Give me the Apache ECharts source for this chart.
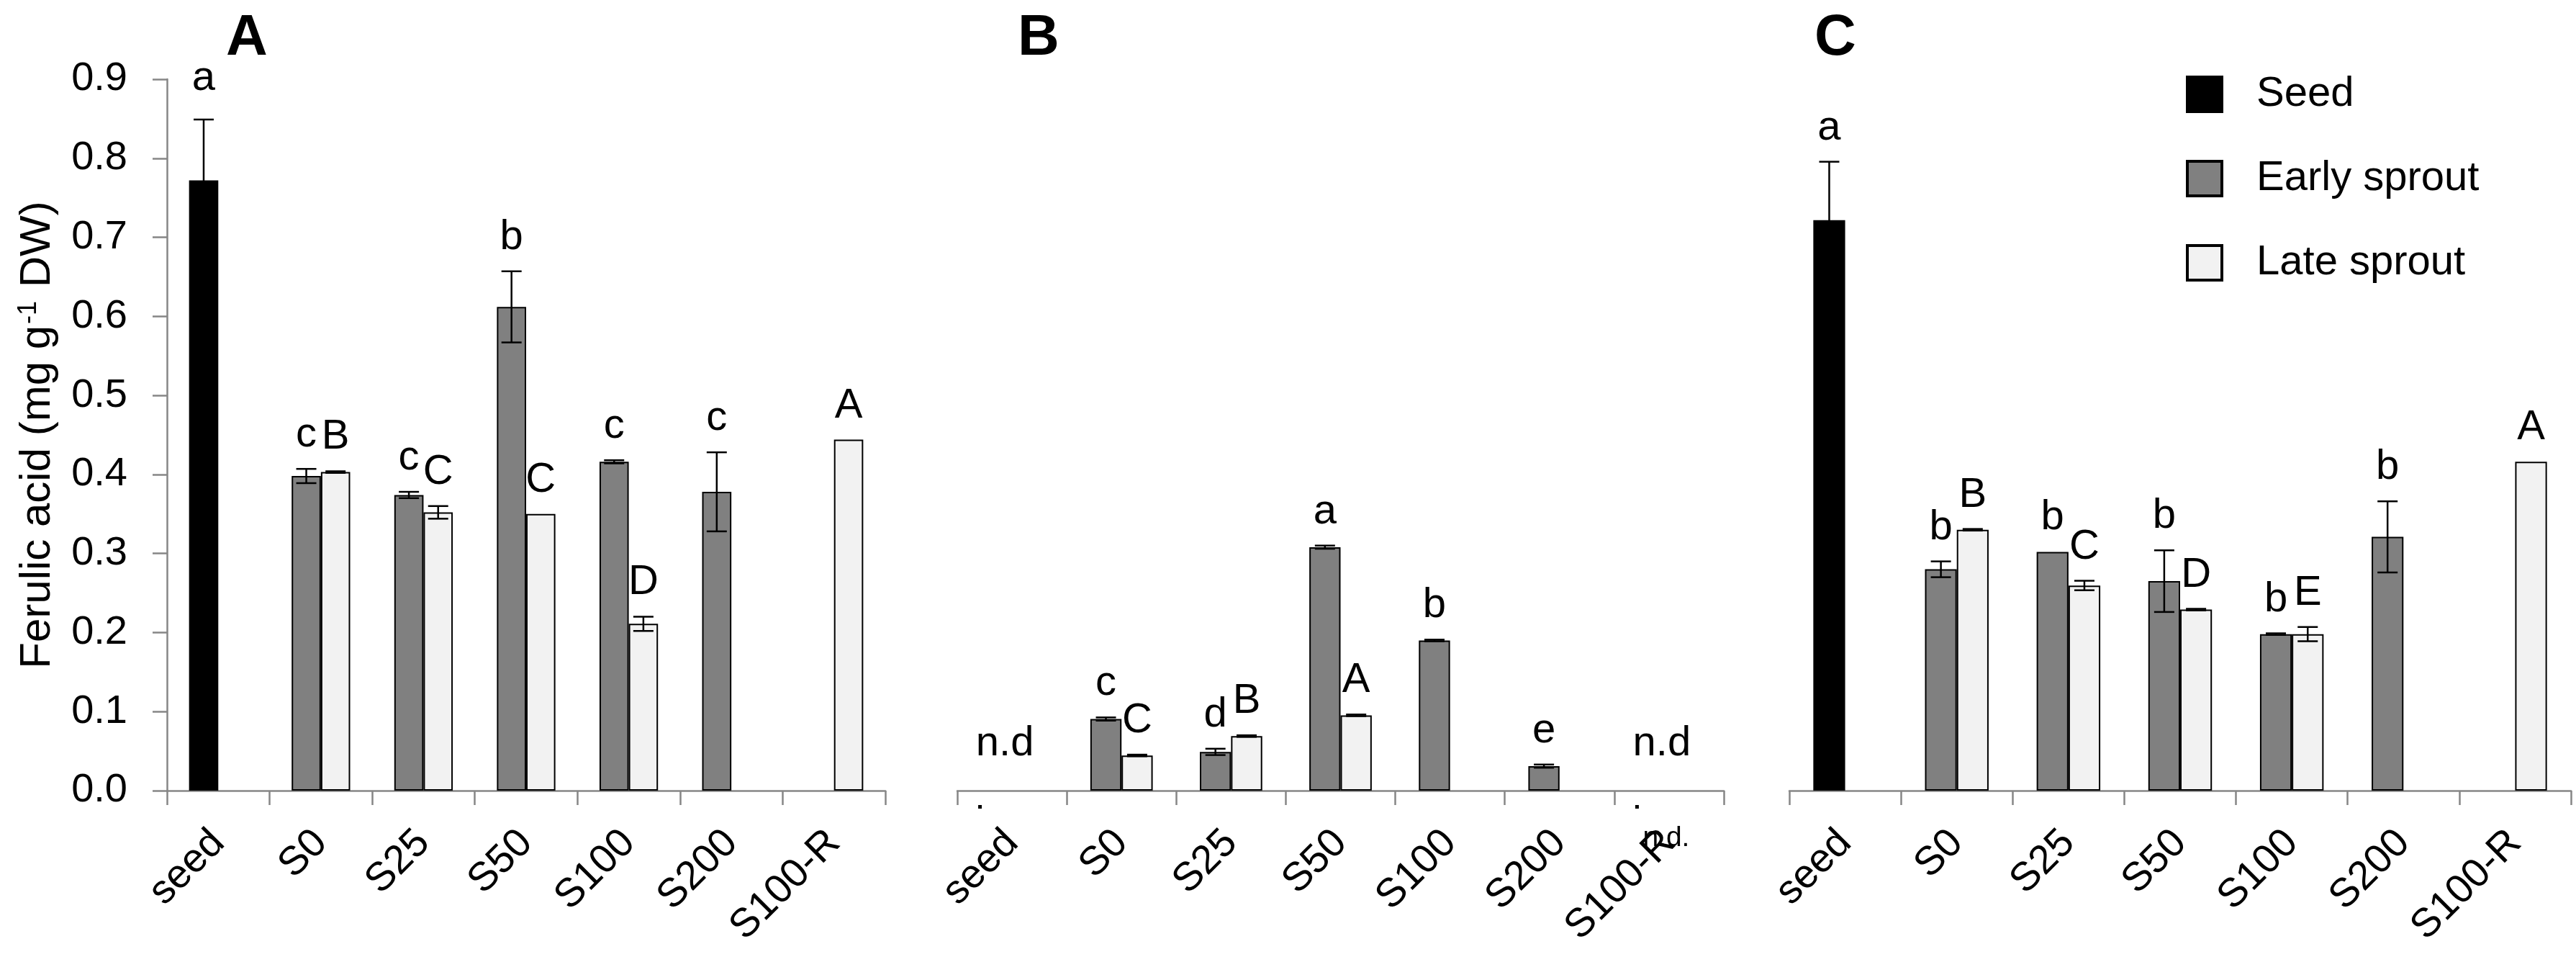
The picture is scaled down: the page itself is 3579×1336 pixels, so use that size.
<!DOCTYPE html>
<html><head><meta charset="utf-8">
<script src="https://cdn.jsdelivr.net/npm/echarts@6/dist/echarts.min.js"></script>
<style>html,body{margin:0;padding:0;background:#fff}#c{width:3579px;height:1336px}</style>
</head><body><div id="c"></div>
<script>
const categories = ['seed', 'S0', 'S25', 'S50', 'S100', 'S200', 'S100-R'];
const yMin = 0, yMax = 0.9, yStep = 0.1;
const legendNames = ['Seed', 'Early sprout', 'Late sprout'];
const panelLabels = ['A', 'B', 'C'];

// Panel A
const seedA = [0.772, null, null, null, null, null, null];
const seedErrA = [0.077, null, null, null, null, null, null];
const seedLetA = ['a', '', '', '', '', '', ''];
const earlyA = [null, 0.398, 0.374, 0.612, 0.416, 0.378, null];
const earlyErrA = [null, 0.009, 0.004, 0.045, 0.002, 0.050, null];
const earlyLetA = ['', 'c', 'c', 'b', 'c', 'c', ''];
const lateA = [null, 0.403, 0.352, 0.350, 0.211, null, 0.444];
const lateErrA = [null, 0.001, 0.008, 0, 0.009, null, 0];
const lateLetA = ['', 'B', 'C', 'C', 'D', '', 'A'];

// Panel B
const seedB = [null, null, null, null, null, null, null];
const seedErrB = [null, null, null, null, null, null, null];
const seedLetB = ['', '', '', '', '', '', ''];
const earlyB = [null, 0.0906, 0.049, 0.308, 0.190, 0.031, null];
const earlyErrB = [null, 0.002, 0.004, 0.002, 0.001, 0.002, null];
const earlyLetB = ['', 'c', 'd', 'a', 'b', 'e', ''];
const lateB = [null, 0.0445, 0.069, 0.0953, null, null, null];
const lateErrB = [null, 0.001, 0.001, 0.001, null, null, null];
const lateLetB = ['', 'C', 'B', 'A', '', '', ''];
const notDetectedB = ['seed', 'S100-R'];

// Panel C
const seedC = [0.7216, null, null, null, null, null, null];
const seedErrC = [0.074, null, null, null, null, null, null];
const seedLetC = ['a', '', '', '', '', '', ''];
const earlyC = [null, 0.280, 0.302, 0.265, 0.198, 0.321, null];
const earlyErrC = [null, 0.010, 0, 0.039, 0.001, 0.045, null];
const earlyLetC = ['', 'b', 'b', 'b', 'b', 'b', ''];
const lateC = [null, 0.330, 0.2595, 0.229, 0.198, null, 0.416];
const lateErrC = [null, 0.001, 0.006, 0.001, 0.009, null, 0];
const lateLetC = ['', 'B', 'C', 'D', 'E', '', 'A'];

const FONT = '"Liberation Sans", Arial, Helvetica, sans-serif';
const AXIS_COLOR = '#868686';
const CAT_GAP = 0.43;
const COLORS = {Seed: '#000000', 'Early sprout': '#808080', 'Late sprout': '#f2f2f2'};

const grids = [
  {left: 232, top: 110, width: 998, height: 988},
  {left: 1330, top: 110, width: 1065, height: 988},
  {left: 2486, top: 110, width: 1086, height: 988}
];

const toData = arr => arr.map(v => (v == null ? '-' : v));

function barSeries(p, seed, early, late) {
  const base = {type: 'bar', xAxisIndex: p, yAxisIndex: p, barGap: '0%', barCategoryGap: (CAT_GAP * 100) + '%', silent: true, z: 2};
  return [
    Object.assign({}, base, {name: 'Seed', stack: 'e' + p, data: toData(seed),
      itemStyle: {color: COLORS.Seed, borderColor: '#000', borderWidth: 2}}),
    Object.assign({}, base, {name: 'Early sprout', stack: 'e' + p, data: toData(early),
      itemStyle: {color: COLORS['Early sprout'], borderColor: '#000', borderWidth: 2}}),
    Object.assign({}, base, {name: 'Late sprout', data: toData(late),
      itemStyle: {color: COLORS['Late sprout'], borderColor: '#000', borderWidth: 2}})
  ];
}

function annotSeries(p, values, errs, letters, slot, gap) {
  const data = [];
  values.forEach((v, i) => { if (v != null) data.push([i, v, errs[i] || 0]); });
  return {
    type: 'custom', xAxisIndex: p, yAxisIndex: p, z: 6, silent: true, data: data,
    encode: {x: 0, y: 1},
    renderItem: function (params, api) {
      const i = api.value(0), v = api.value(1), e = api.value(2);
      const band = api.size([1, 0])[0];
      const bw = band * (1 - CAT_GAP) / 2;
      const cx = api.coord([i, v])[0] + slot * bw / 2;
      const yTop = api.coord([i, v + e])[1];
      const yBot = api.coord([i, v - e])[1];
      const ch = [];
      if (e > 0) {
        const cap = 14;
        const st = {stroke: '#000', lineWidth: 2.5};
        ch.push({type: 'line', shape: {x1: cx, y1: yTop, x2: cx, y2: yBot}, style: st});
        ch.push({type: 'line', shape: {x1: cx - cap, y1: yTop, x2: cx + cap, y2: yTop}, style: st});
        ch.push({type: 'line', shape: {x1: cx - cap, y1: yBot, x2: cx + cap, y2: yBot}, style: st});
      }
      const letter = letters[i];
      if (letter) {
        ch.push({type: 'text', x: cx, y: yTop - (gap || 18),
          style: {text: letter, font: '58px ' + FONT, fill: '#000', align: 'center', verticalAlign: 'bottom'}});
      }
      return {type: 'group', children: ch};
    }
  };
}

function ndSeries(p, cats) {
  const data = cats.map(c => [categories.indexOf(c), 0]);
  return {
    type: 'custom', xAxisIndex: p, yAxisIndex: p, z: 6, silent: true, data: data,
    encode: {x: 0, y: 1},
    renderItem: function (params, api) {
      const i = api.value(0);
      const pt = api.coord([i, 0]);
      const ch = [
        {type: 'text', x: pt[0] - 10, y: pt[1] - 36,
          style: {text: 'n.d', font: '58px ' + FONT, fill: '#000', align: 'center', verticalAlign: 'bottom'}},
        {type: 'rect', shape: {x: pt[0] - 47, y: pt[1] + 20, width: 5, height: 5}, style: {fill: '#000'}}
      ];
      if (i === categories.length - 1) {
        ch.push({type: 'text', x: pt[0] - 4, y: pt[1] + 86,
          style: {text: 'n.d.', font: '39px ' + FONT, fill: '#000', align: 'center', verticalAlign: 'bottom'}});
      }
      return {type: 'group', children: ch};
    }
  };
}

const xAxes = grids.map((g, p) => ({
  type: 'category', gridIndex: p, data: categories,
  axisLine: {show: true, lineStyle: {color: AXIS_COLOR, width: 2.5}},
  axisTick: {show: true, length: 20, interval: 0, lineStyle: {color: AXIS_COLOR, width: 2.5}},
  axisLabel: {interval: 0, rotate: 45, margin: 64, fontSize: 56, fontFamily: FONT, color: '#000'},
  splitLine: {show: false}
}));

const yAxes = grids.map((g, p) => ({
  type: 'value', gridIndex: p, min: yMin, max: yMax, interval: yStep,
  show: p === 0,
  name: p === 0 ? 'Ferulic acid (mg g{sup|-1} DW)' : '',
  nameLocation: 'middle', nameGap: 150, nameRotate: 90,
  nameTextStyle: {fontSize: 60, fontFamily: FONT, color: '#000',
    rich: {sup: {fontSize: 36, fontFamily: FONT, color: '#000', verticalAlign: 'top', padding: [0, 2, 0, 2]}}},
  axisLine: {show: p === 0, lineStyle: {color: AXIS_COLOR, width: 2.5}},
  axisTick: {show: p === 0, length: 20, lineStyle: {color: AXIS_COLOR, width: 2.5}},
  axisLabel: {show: p === 0, margin: 55, fontSize: 56, fontFamily: FONT, color: '#000',
    formatter: v => v.toFixed(1)},
  splitLine: {show: false}
}));

const series = [].concat(
  barSeries(0, seedA, earlyA, lateA),
  barSeries(1, seedB, earlyB, lateB),
  barSeries(2, seedC, earlyC, lateC),
  [
    annotSeries(0, seedA, seedErrA, seedLetA, -1, 28),
    annotSeries(0, earlyA, earlyErrA, earlyLetA, -1),
    annotSeries(0, lateA, lateErrA, lateLetA, 1),
    annotSeries(1, earlyB, earlyErrB, earlyLetB, -1),
    annotSeries(1, lateB, lateErrB, lateLetB, 1),
    ndSeries(1, notDetectedB),
    annotSeries(2, seedC, seedErrC, seedLetC, -1),
    annotSeries(2, earlyC, earlyErrC, earlyLetC, -1),
    annotSeries(2, lateC, lateErrC, lateLetC, 1)
  ]
);

const panelX = [343, 1443, 2550];
const graphic = panelLabels.map((t, k) => ({
  type: 'text', x: panelX[k], y: 54, silent: true,
  style: {text: t, font: 'bold 80px ' + FONT, fill: '#000', align: 'center', verticalAlign: 'middle',
    textAlign: 'center', textVerticalAlign: 'middle'}
}));

const chart = echarts.init(document.getElementById('c'), null, {renderer: 'canvas'});
chart.setOption({
  animation: false,
  backgroundColor: '#ffffff',
  textStyle: {fontFamily: FONT},
  grid: grids,
  xAxis: xAxes,
  yAxis: yAxes,
  legend: {
    orient: 'vertical', left: 3032, top: 97, itemWidth: 48, itemHeight: 48, itemGap: 59,
    icon: 'rect', selectedMode: false,
    textStyle: {fontSize: 58, fontFamily: FONT, color: '#000', lineHeight: 48, padding: [0, 0, 0, 43]},
    data: legendNames.map(n => ({name: n, itemStyle: {color: COLORS[n], borderColor: '#000', borderWidth: 4}}))
  },
  graphic: graphic,
  series: series
});
</script></body></html>
